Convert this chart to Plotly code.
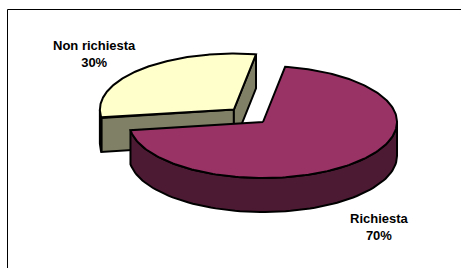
import numpy as np
import plotly.graph_objects as go

# ---- data ----
labels = ["Richiesta", "Non richiesta"]
values = [70, 30]
top_colors = ["#993366", "#FFFFCC"]
side_colors = ["#4D1A33", "#808066"]
explode = [0.0, 0.31]
label_pos = [(379.5, 226.5), (94.5, 54.0)]

# ---- geometry (pixel space) ----
W, H = 461, 268
CX, CY = 263.0, 122.0
RX, RY = 134.0, 56.0
DEPTH = 34.0
START = np.deg2rad(9.5)


def pt(cx, cy, th):
    return cx + RX * np.sin(th), cy - RY * np.cos(th)


total = float(sum(values))
slices = []
acc = START
for i, v in enumerate(values):
    a0 = acc
    a1 = acc + 2 * np.pi * v / total
    acc = a1
    mid = (a0 + a1) / 2
    ox = explode[i] * RX * np.sin(mid)
    oy = -explode[i] * RY * np.cos(mid)
    slices.append(dict(i=i, a0=a0, a1=a1, mid=mid, cx=CX + ox, cy=CY + oy))

# back slices first
slices.sort(key=lambda s: -np.cos(s["mid"]))

fig = go.Figure()


def poly(xs, ys, color):
    xs = list(xs) + [xs[0]]
    ys = list(ys) + [ys[0]]
    fig.add_trace(go.Scatter(x=xs, y=ys, mode="lines", fill="toself",
                             fillcolor=color,
                             line=dict(color="black", width=2),
                             hoverinfo="skip", showlegend=False))


for s in slices:
    i, a0, a1, cx, cy = s["i"], s["a0"], s["a1"], s["cx"], s["cy"]
    side = side_colors[i]
    # radial face at start edge
    if np.cos(a0 - np.pi / 2) < 0:
        x1, y1 = pt(cx, cy, a0)
        poly([cx, x1, x1, cx], [cy, y1, y1 + DEPTH, cy + DEPTH], side)
    # radial face at end edge
    if np.cos(a1 + np.pi / 2) < 0:
        x1, y1 = pt(cx, cy, a1)
        poly([cx, x1, x1, cx], [cy, y1, y1 + DEPTH, cy + DEPTH], side)
    # outer wall (front-facing part)
    for k in range(-1, 3):
        lo = max(a0, np.pi / 2 + 2 * np.pi * k)
        hi = min(a1, 3 * np.pi / 2 + 2 * np.pi * k)
        if hi > lo:
            th = np.linspace(lo, hi, 80)
            xs, ys = pt(cx, cy, th)
            poly(np.concatenate([xs, xs[::-1]]),
                 np.concatenate([ys, (ys + DEPTH)[::-1]]), side)
    # top face
    th = np.linspace(a0, a1, 200)
    xs, ys = pt(cx, cy, th)
    poly(np.concatenate([[cx], xs]), np.concatenate([[cy], ys]), top_colors[i])

for i, lab in enumerate(labels):
    pct = round(100 * values[i] / total)
    fig.add_annotation(x=label_pos[i][0], y=label_pos[i][1],
                       text=f"{lab}<br>{pct}%", showarrow=False,
                       xanchor="center", yanchor="middle", align="center",
                       font=dict(family="Liberation Sans, Arial", size=13,
                                 color="black", weight="bold"))

fig.add_shape(type="rect", xref="x", yref="y", x0=7.5, y0=9.5, x1=480, y1=290,
              line=dict(color="black", width=1), layer="above")

fig.update_layout(width=W, height=H, margin=dict(l=0, r=0, t=0, b=0),
                  paper_bgcolor="white", plot_bgcolor="white",
                  xaxis=dict(range=[0, W], visible=False, fixedrange=True),
                  yaxis=dict(range=[H, 0], visible=False, fixedrange=True))

fig.write_html("out.html",
               config={"displayModeBar": False, "staticPlot": True},
               post_script="document.body.style.margin='0';"
                           "document.body.style.overflow='hidden';")
